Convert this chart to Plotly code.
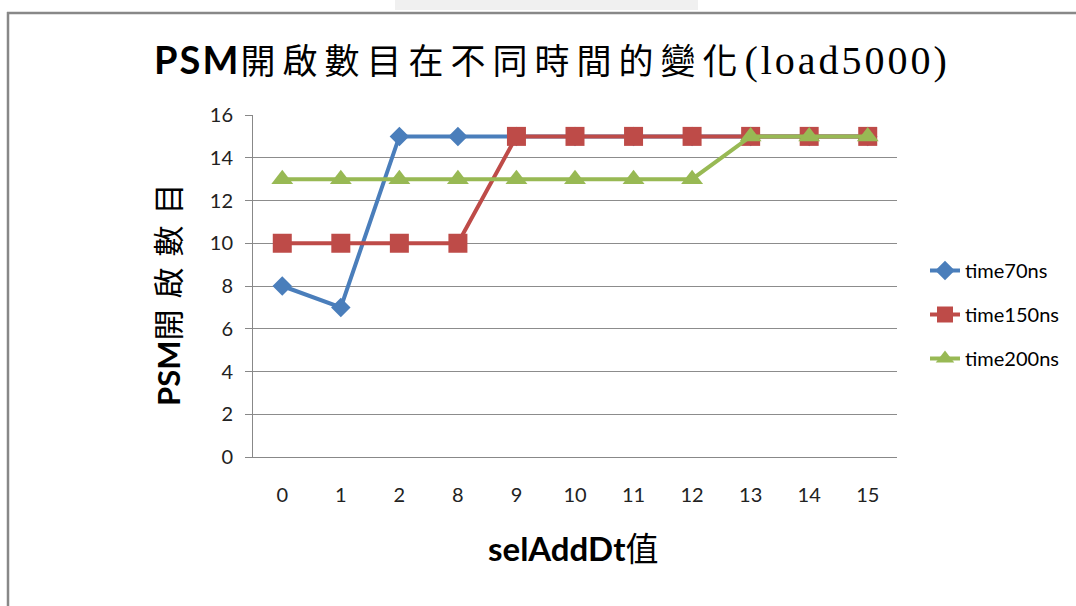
import plotly.graph_objects as go

# category labels along the x axis (selAddDt values)
categories = ["0", "1", "2", "8", "9", "10", "11", "12", "13", "14", "15"]

# number of enabled PSMs at each sampling time
time70ns = [8, 7, 15, 15, 15, 15, 15, 15, 15, 15, 15]
time150ns = [10, 10, 10, 10, 15, 15, 15, 15, 15, 15, 15]
time200ns = [13, 13, 13, 13, 13, 13, 13, 13, 15, 15, 15]

y_ticks = [0, 2, 4, 6, 8, 10, 12, 14, 16]

series = [
    ("time70ns", time70ns, "#4a7ebb", "diamond", 15),
    ("time150ns", time150ns, "#be4b48", "square", 19),
    ("time200ns", time200ns, "#98b954", "triangle-up", 19),
]

W, H = 1076, 606
L, R, T, B = 253, 179, 115, 149

fig = go.Figure()
for name, vals, color, symbol, size in series:
    fig.add_trace(go.Scatter(
        x=categories, y=vals, name=name, mode="lines+markers",
        legendgroup=name,
        line=dict(color=color, width=4),
        marker=dict(symbol=symbol, size=size, color=color,
                    line=dict(width=0)),
    ))

sans = "Lato, 'Noto Sans', 'Noto Sans CJK TC', sans-serif"
cjk = "'Noto Sans CJK TC', 'Noto Sans', sans-serif"


def px_x(p):
    return (p - L) / (W - L - R)


def px_y(p):
    return (H - B - p) / (H - T - B)


title_text = (
    "<span style=\"font-family:Lato;font-weight:bold;font-size:38px;letter-spacing:2px\">PSM</span>"
    "<span style=\"letter-spacing:7px\">開啟數目在不同時間的變化</span>"
    "<span style=\"font-family:'Liberation Serif';font-size:40px;letter-spacing:3px\">(load5000)</span>"
)

fig.update_layout(
    width=W, height=H,
    margin=dict(l=L, r=R, t=T, b=B),
    paper_bgcolor="white", plot_bgcolor="white",
    font=dict(family=sans, color="#222222"),
    title=dict(text=title_text, x=552 / W, xanchor="center",
               y=1 - 62 / H, yanchor="middle", xref="container",
               font=dict(family=cjk, size=35, color="black")),
    showlegend=True,
    legend=dict(x=px_x(925), xanchor="left", y=px_y(251), yanchor="top",
                font=dict(family=sans, size=20, color="black"),
                tracegroupgap=15, itemwidth=30, bgcolor="rgba(0,0,0,0)"),
    xaxis=dict(type="category", range=[-0.5, 10.5], showgrid=False,
               showline=True, linecolor="#888888", linewidth=1,
               ticks="", tickfont=dict(size=20, color="#222222"),
               ticklabelstandoff=20, fixedrange=True),
    yaxis=dict(range=[0, 16], tickvals=y_ticks, showgrid=True,
               gridcolor="#8c8c8c", gridwidth=1, zeroline=False,
               showline=True, linecolor="#888888", linewidth=1,
               ticks="outside", ticklen=7, tickcolor="#888888",
               tickfont=dict(size=20, color="#222222"),
               ticklabelstandoff=8, fixedrange=True),
    annotations=[
        dict(text="<b>selAddDt</b>值", xref="paper", yref="paper",
             x=px_x(573), y=px_y(548), showarrow=False,
             xanchor="center", yanchor="middle",
             font=dict(family=sans, size=33, color="black")),
        dict(text="<b>PSM</b><span style=\"letter-spacing:11px\">開啟數目</span>",
             xref="paper", yref="paper", textangle=-90,
             x=px_x(168), y=px_y(289), showarrow=False,
             xanchor="center", yanchor="middle",
             font=dict(family=sans, size=31, color="black")),
    ],
    shapes=[
        # faint strip above the frame
        dict(type="rect", xref="paper", yref="paper",
             x0=px_x(395), x1=px_x(698), y0=px_y(0), y1=px_y(10),
             fillcolor="#f0f0f0", line=dict(width=0), layer="below"),
        # chart frame (top and left edges)
        dict(type="line", xref="paper", yref="paper",
             x0=px_x(7), x1=px_x(W + 5), y0=px_y(13), y1=px_y(13),
             line=dict(color="#888888", width=2.5)),
        dict(type="line", xref="paper", yref="paper",
             x0=px_x(8), x1=px_x(8), y0=px_y(12), y1=px_y(H + 5),
             line=dict(color="#888888", width=2.5)),
    ],
)

fig.write_html("out.html", config=dict(displayModeBar=False))
